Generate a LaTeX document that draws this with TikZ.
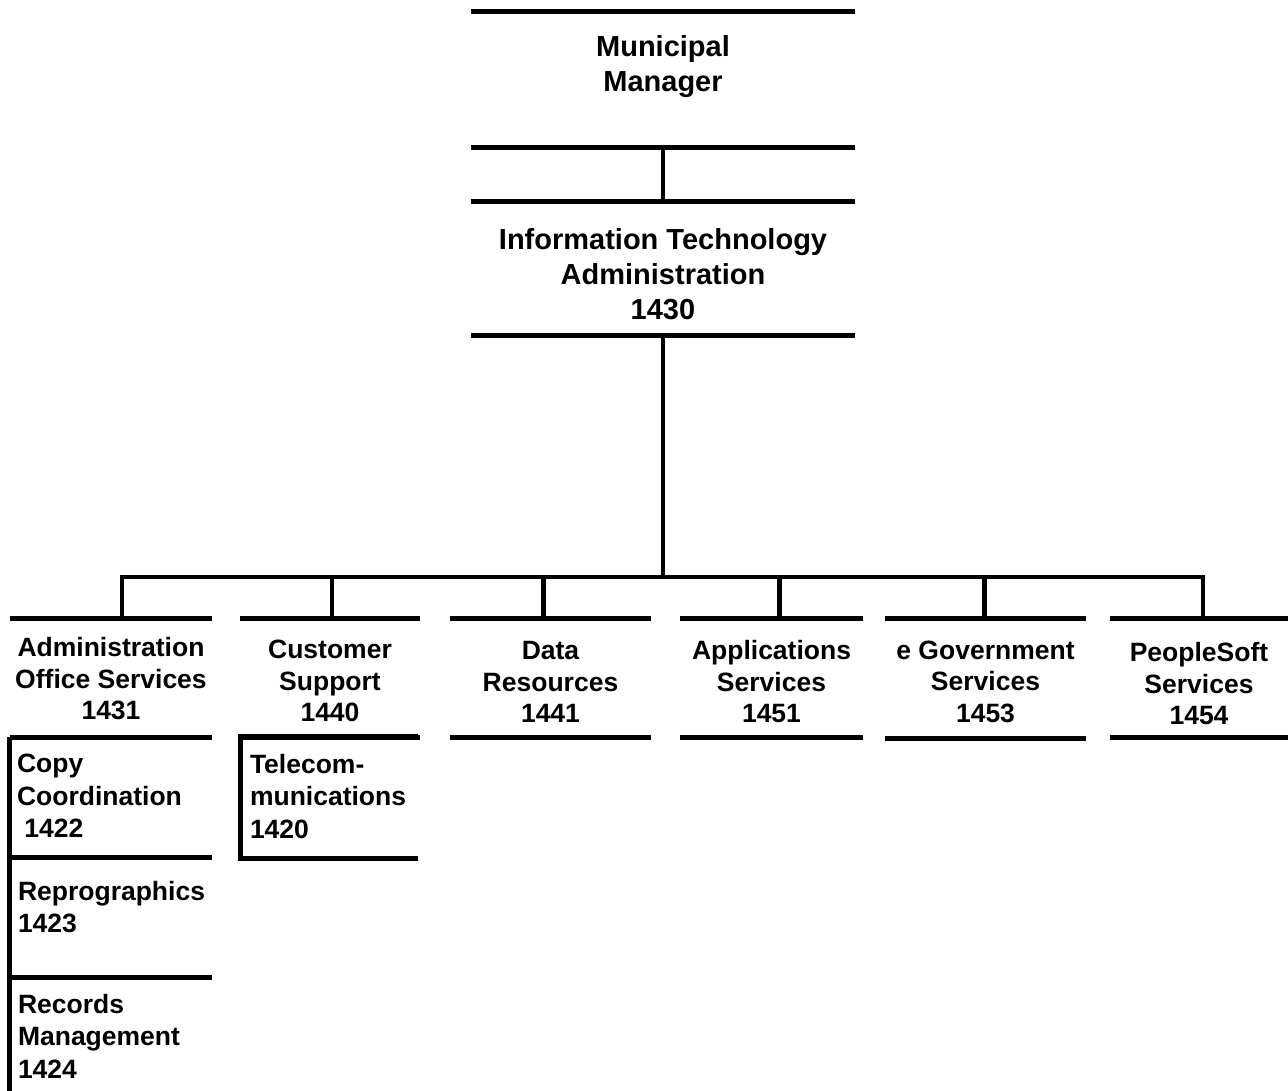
\documentclass[tikz,border=0pt]{standalone}
\usepackage{fontspec}
\setmainfont{Liberation Sans}
\begin{document}
\begin{tikzpicture}[x=1pt, y=-1pt,
  rule/.style={line width=4.8pt},
  unitframe/.style={inner sep=0pt, minimum width=#1},
  toptext/.style={font=\fontsize{29}{35}\selectfont\bfseries, align=center},
  unittext/.style={font=\fontsize{26.5}{31.5}\selectfont\bfseries, align=center},
  subtext/.style={font=\fontsize{26.5}{32.5}\selectfont\bfseries, align=left, anchor=north west, inner sep=0pt}]
\useasboundingbox (0,0) rectangle (1288,1091);

% Frames
\node[unitframe=384pt, minimum height=135pt] (mm) at (663,79.5) {};
\node[unitframe=384pt, minimum height=133pt] (it) at (663,268.5) {};
\node[unitframe=202pt, minimum height=118pt] (aos) at (111,678) {};
\node[unitframe=180pt, minimum height=118pt] (cs) at (330,678) {};
\node[unitframe=201pt, minimum height=118pt] (dr) at (550.5,678) {};
\node[unitframe=183pt, minimum height=118pt] (as) at (771.5,678) {};
\node[unitframe=201pt, minimum height=119pt] (eg) at (985.5,678.5) {};
\node[unitframe=178pt, minimum height=118pt] (ps) at (1199,678) {};
\node[unitframe=202pt, minimum height=120pt] (cc) at (111,797) {};
\node[unitframe=202pt, minimum height=120pt] (rg) at (111,917) {};
\node[unitframe=202pt, minimum height=114pt] (rm) at (111,1034) {};
\node[unitframe=177pt, minimum height=121pt] (tc) at (329.5,797.5) {};

% Texts
\node[toptext] (mmtext) at ([yshift=13pt]mm) {Municipal\\Manager};
\node[toptext] (ittext) at ([yshift=-6pt]it) {Information Technology\\Administration\\1430};
\node[unittext] (aostext) at ([yshift=-1pt]aos) {Administration\\Office Services\\1431};
\node[unittext] (cstext) at ([yshift=-3pt]cs) {Customer\\Support\\1440};
\node[unittext] (drtext) at ([yshift=-4pt]dr) {Data\\Resources\\1441};
\node[unittext] (astext) at ([yshift=-4pt]as) {Applications\\Services\\1451};
\node[unittext] (egtext) at ([yshift=-3pt]eg) {e Government\\Services\\1453};
\node[unittext] (pstext) at ([yshift=-6pt]ps) {PeopleSoft\\Services\\1454};
\node[subtext] (cctext) at ([xshift=7pt, yshift=-17pt]cc.north west) {Copy\\Coordination\\~1422};
\node[subtext] (rgtext) at ([xshift=8pt, yshift=-24pt]rg.north west) {Reprographics\\1423};
\node[subtext] (rmtext) at ([xshift=8pt, yshift=-17pt]rm.north west) {Records\\Management\\1424};
\node[subtext] (tctext) at ([xshift=9pt, yshift=-17pt]tc.north west) {Telecom-\\munications\\1420};

% Rules
\foreach \n in {mm,it,aos,cs,dr,as,eg,ps}
  \draw[rule] (\n.north west) -- (\n.north east) (\n.south west) -- (\n.south east);
\draw[rule] (cc.north west) -- (rm.south west);
\draw[rule] (cc.south west) -- (cc.south east) (rg.south west) -- (rg.south east);
\draw[rule] (tc.north east) -- (tc.north west) -- (tc.south west) -- (tc.south east);

% Connectors
\coordinate (bus) at (663,577);
\draw[rule] (mm.south) -- (it.north);
\draw[rule] (it.south) -- (it.south |- bus);
\draw[rule] ([xshift=11pt]aos.north) |- (bus) -| ([xshift=4pt]ps.north);
\foreach \n/\s in {cs/2pt, dr/-7pt, as/8pt, eg/-1pt}
  \draw[rule] ([xshift=\s]\n.north) -- ([xshift=\s]\n.north |- bus);
\end{tikzpicture}
\end{document}
